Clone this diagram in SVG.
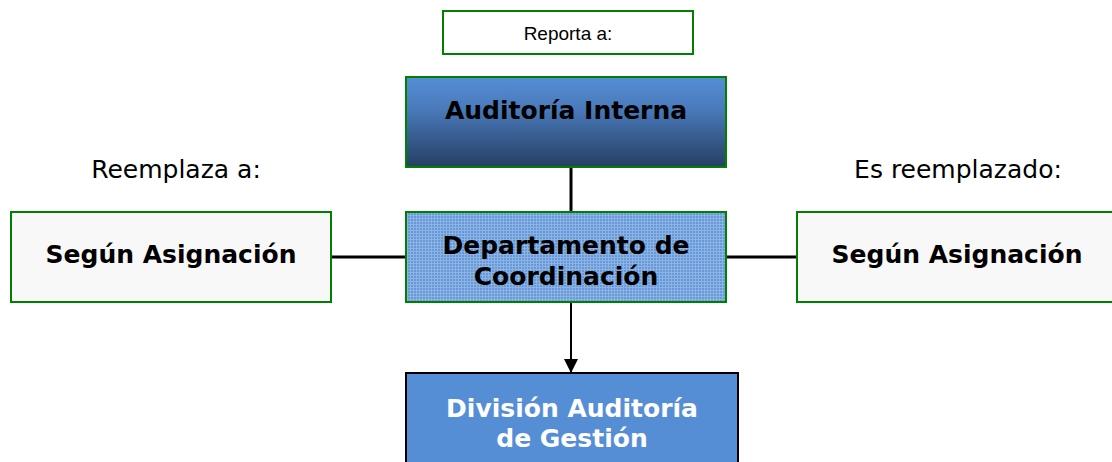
<svg xmlns="http://www.w3.org/2000/svg" width="1112" height="462" viewBox="0 0 1112 462">
<defs>
<linearGradient id="gAud" x1="0" y1="0" x2="0" y2="1">
<stop offset="0" stop-color="#558ed5"/>
<stop offset="0.35" stop-color="#4a7abb"/>
<stop offset="1" stop-color="#253f63"/>
</linearGradient>
<pattern id="dots" width="3" height="3" patternUnits="userSpaceOnUse">
<rect width="3" height="3" fill="#8db3e2"/>
<rect width="2" height="2" fill="#6699d9"/>
</pattern>
<marker id="arr" viewBox="0 0 10 10" refX="10" refY="5" markerWidth="14" markerHeight="14" markerUnits="userSpaceOnUse" orient="auto">
<path d="M0,0 L10,5 L0,10 z" fill="#000"/>
</marker>
<style>
.box{stroke:#008000;stroke-width:2}
.b{font-family:"DejaVu Sans",Verdana,sans-serif;font-weight:bold;font-size:25px;text-anchor:middle;fill:#000}
.r{font-family:"DejaVu Sans",Verdana,sans-serif;font-size:25px;text-anchor:middle;fill:#000}
.line{stroke:#000;stroke-width:3;fill:none}
</style>
</defs>
<rect width="1112" height="462" fill="#fff"/>
<g id="labels">
<text class="r" x="176" y="178">Reemplaza a:</text>
<text class="r" x="958" y="178">Es reemplazado:</text>
</g>
<g id="reporta">
<rect class="box" x="443" y="11" width="250" height="43" fill="#fff"/>
<text x="568" y="40" font-family="Liberation Sans, Arial, sans-serif" font-size="19" text-anchor="middle">Reporta a:</text>
</g>
<g id="connectors">
<line class="line" x1="571" y1="167" x2="571" y2="212"/>
<line class="line" x1="331" y1="257" x2="406" y2="257"/>
<line class="line" x1="726" y1="257" x2="797" y2="257"/>
<line x1="571" y1="302" x2="571" y2="373" stroke="#000" stroke-width="2" marker-end="url(#arr)"/>
</g>
<g id="auditoria">
<rect class="box" x="406" y="77" width="320" height="90" fill="url(#gAud)"/>
<text class="b" x="566" y="119">Auditoría Interna</text>
</g>
<g id="departamento">
<rect class="box" x="406" y="212" width="320" height="90" fill="url(#dots)"/>
<text class="b" x="566" y="254">Departamento de</text>
<text class="b" x="566" y="285">Coordinación</text>
</g>
<g id="izq">
<rect class="box" x="11" y="212" width="320" height="90" fill="#f8f8f8"/>
<text class="b" x="171" y="263">Según Asignación</text>
</g>
<g id="der">
<rect class="box" x="797" y="212" width="320" height="90" fill="#f8f8f8"/>
<text class="b" x="957" y="263">Según Asignación</text>
</g>
<g id="division">
<rect x="406" y="373" width="332" height="100" fill="#558ed5" stroke="#000" stroke-width="2"/>
<text class="b" x="572" y="417" style="fill:#fff">División Auditoría</text>
<text class="b" x="572" y="447" style="fill:#fff">de Gestión</text>
</g>
</svg>
